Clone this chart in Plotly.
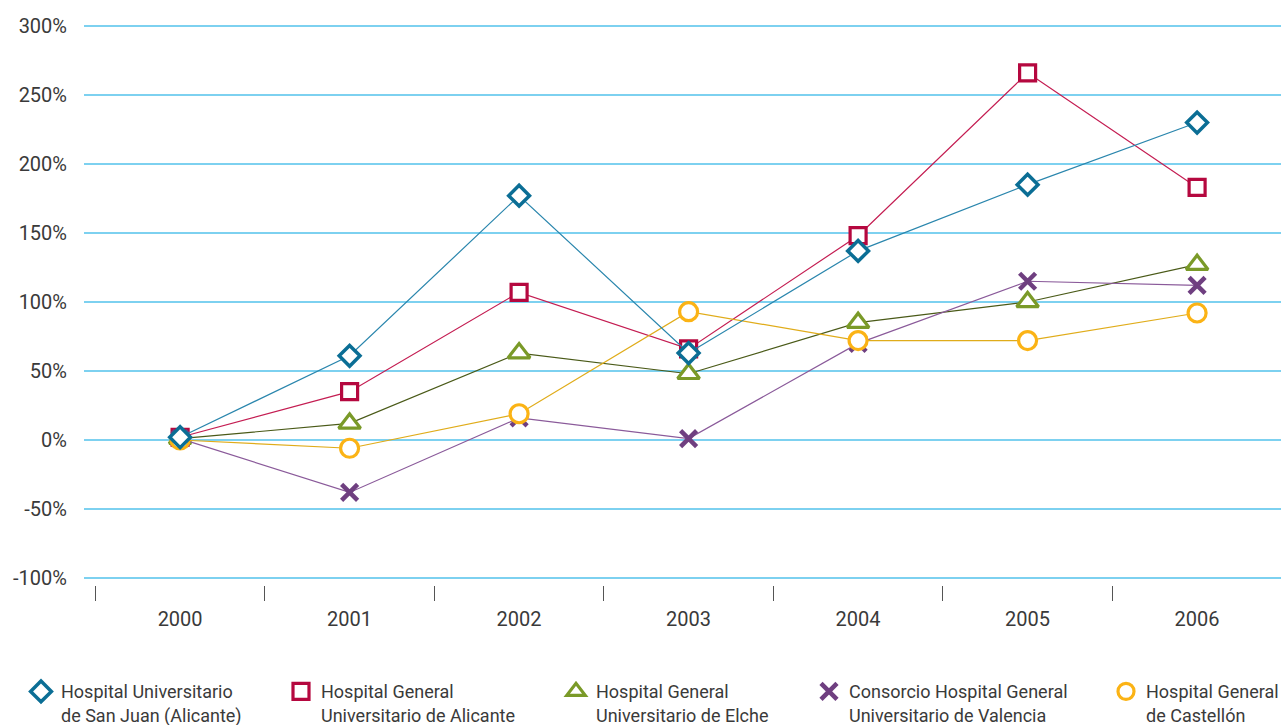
import plotly.graph_objects as go

years = ["2000", "2001", "2002", "2003", "2004", "2005", "2006"]
san_juan = [2, 61, 177, 63, 137, 185, 230]
alicante = [2, 35, 107, 66, 148, 266, 183]
elche = [1, 12, 63, 48, 85, 100, 127]
valencia = [1, -38, 16, 1, 70, 115, 112]
castellon = [0, -6, 19, 93, 72, 72, 92]

names = [
    "Hospital Universitario<br>de San Juan (Alicante)",
    "Hospital General<br>Universitario de Alicante",
    "Hospital General<br>Universitario de Elche",
    "Consorcio Hospital General<br>Universitario de Valencia",
    "Hospital General<br>de Castellón",
]
y_tickvals = [-100, -50, 0, 50, 100, 150, 200, 250, 300]
y_ticktext = ["-100%", "-50%", "0%", "50%", "100%", "150%", "200%", "250%", "300%"]

FONT = "Roboto, Arial, sans-serif"
TXT = "#3a3a3a"

# style per series: (values, line color, marker color, symbol, size, marker line width, fill)
styles = {
    "sj": (san_juan, "#2a86ad", "#0b6e95", "diamond", 16, 3.5, "white"),
    "al": (alicante, "#c41d52", "#b5083f", "square", 16, 3.2, "white"),
    "el": (elche, "#4a5a18", "#7a9a28", "triangle-up", 19, 3.2, "white"),
    "va": (valencia, "#8a5a9a", "#6f3f80", "x-thin", 16, 4.5, "#6f3f80"),
    "ca": (castellon, "#e0ac1a", "#fbb315", "circle", 18, 3.2, "white"),
}
order_keys = ["sj", "al", "el", "va", "ca"]
draw_order = ["al", "el", "va", "ca", "sj"]

fig = go.Figure()
for k in draw_order:
    vals, lc, mc, sym, sz, lw, fill = styles[k]
    fig.add_trace(go.Scatter(
        x=years, y=vals, mode="lines+markers", showlegend=False,
        line=dict(color=lc, width=1.2),
        marker=dict(symbol=sym, size=sz, color=fill, line=dict(color=mc, width=lw)),
        hoverinfo="skip",
    ))

legend_px = [40, 300, 575, 828, 1125]
PLOT_L, PLOT_W = 84, 1197
legends = {}
for i, k in enumerate(order_keys):
    vals, lc, mc, sym, sz, lw, fill = styles[k]
    lname = "legend" if i == 0 else f"legend{i+1}"
    fig.add_trace(go.Scatter(
        x=[None], y=[None], mode="markers", name=names[i], legend=lname,
        marker=dict(symbol=sym, size=sz, color=fill, line=dict(color=mc, width=lw)),
    ))
    legends[lname] = dict(
        x=(legend_px[i] - 19 - PLOT_L) / PLOT_W, xanchor="left",
        y=-0.155, yanchor="top", orientation="h", valign="top",
        bgcolor="rgba(0,0,0,0)", borderwidth=0,
        font=dict(family=FONT, size=18, color=TXT),
        itemsizing="trace",
    )

fig.update_layout(
    width=1281, height=725,
    margin=dict(l=84, r=0, t=16, b=140, autoexpand=False),
    paper_bgcolor="white", plot_bgcolor="white",
    font=dict(family=FONT, size=18, color=TXT),
    xaxis=dict(
        type="category", range=[-0.567, 6.495], automargin=False,
        showgrid=False, zeroline=False, showline=False,
        ticks="outside", tickson="boundaries", ticklen=15, tickwidth=1,
        tickcolor="#555555", ticklabelstandoff=20,
        tickfont=dict(family=FONT, size=20, color=TXT),
    ),
    yaxis=dict(
        range=[-105.07, 307.2], tickmode="array", automargin=False,
        tickvals=y_tickvals, ticktext=y_ticktext,
        showgrid=True, gridcolor="#7dd1f0", gridwidth=2,
        zeroline=False, showline=False, ticks="",
        ticklabelstandoff=16,
        tickfont=dict(family=FONT, size=20, color=TXT),
    ),
    **legends,
)

fig.write_html("out.html", config={"displayModeBar": False},
               post_script="document.body.style.margin='0';")
